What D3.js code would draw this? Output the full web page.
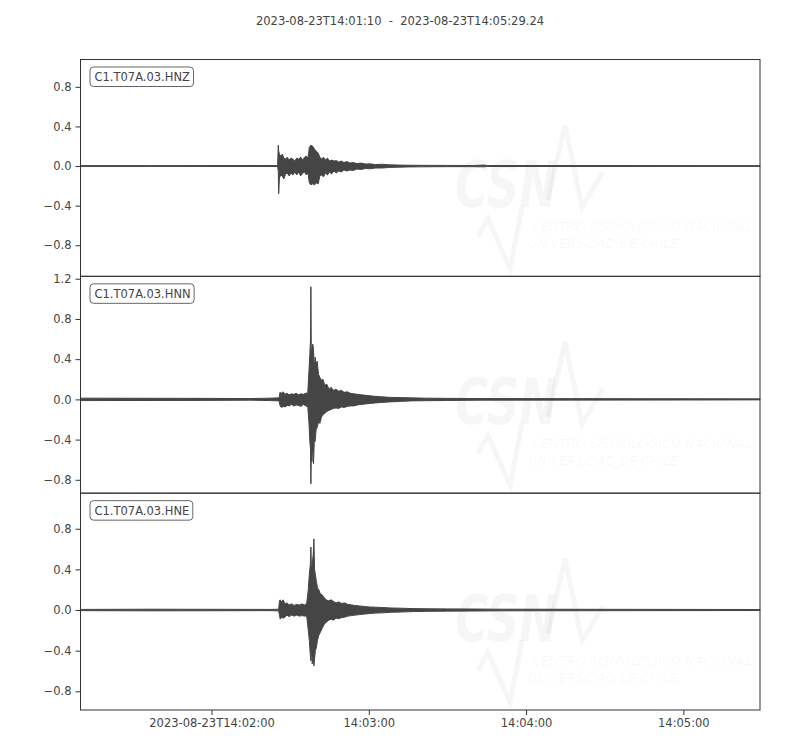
<!DOCTYPE html>
<html><head><meta charset="utf-8">
<script src="https://cdn.jsdelivr.net/npm/d3@7"></script>
<style>body{margin:0;background:#fff} text{font-family:"DejaVu Sans",sans-serif}</style>
</head><body><svg id="c" width="800" height="750"></svg>
<script>
// ---------- data ----------
const startTime = "2023-08-23T14:01:10Z";
const endOffsetSec = 259.24;
const title = "2023-08-23T14:01:10  -  2023-08-23T14:05:29.24";
const channels = ["C1.T07A.03.HNZ", "C1.T07A.03.HNN", "C1.T07A.03.HNE"];
const xTickOffsetsSec = [50, 110, 170, 230];
const xTickLabels = ["2023-08-23T14:02:00", "14:03:00", "14:04:00", "14:05:00"];
const yTicksZ = [-0.8, -0.4, 0.0, 0.4, 0.8];
const yTicksN = [-0.8, -0.4, 0.0, 0.4, 0.8, 1.2];
const yTicksE = [-0.8, -0.4, 0.0, 0.4, 0.8];
const yLimZ = [-1.114, 1.076];
const yLimN = [-0.933, 1.224];
const yLimE = [-0.984, 1.15];

// envelope of each trace: seconds after start, upper and lower amplitude
const tZ  = [0, 26.6, 75.2, 75.45, 75.6, 75.9, 76.4, 77.0, 77.6, 78.2, 78.9, 79.6, 80.3, 81.0, 81.8, 82.5, 83.2, 84.0, 84.8, 85.5, 86.2, 86.8, 87.3, 87.9, 88.6, 89.3, 90.0, 90.7, 91.3, 92.0, 92.7, 93.4, 94.2, 95.0, 95.8, 96.7, 97.6, 98.5, 99.5, 100.5, 101.6, 102.8, 104.0, 105.5, 107.0, 108.8, 110.6, 112.5, 115.0, 118.0, 121.0, 125.0, 130.0, 140.0, 150.0, 154.0, 155.0, 259.24];
const upZ = [0.004, 0.004, 0.005, 0.21, 0.15, 0.12, 0.10, 0.12, 0.08, 0.07, 0.09, 0.06, 0.08, 0.07, 0.05, 0.08, 0.07, 0.09, 0.06, 0.09, 0.10, 0.08, 0.19, 0.21, 0.20, 0.17, 0.15, 0.13, 0.09, 0.07, 0.09, 0.06, 0.08, 0.05, 0.06, 0.05, 0.055, 0.04, 0.05, 0.035, 0.045, 0.03, 0.035, 0.025, 0.03, 0.02, 0.022, 0.015, 0.018, 0.012, 0.010, 0.008, 0.007, 0.006, 0.005, 0.010, 0.005, 0.004];
const loZ = [-0.004, -0.004, -0.005, -0.05, -0.28, -0.12, -0.09, -0.10, -0.13, -0.08, -0.07, -0.10, -0.07, -0.09, -0.06, -0.09, -0.06, -0.10, -0.07, -0.06, -0.09, -0.07, -0.17, -0.19, -0.18, -0.19, -0.17, -0.18, -0.10, -0.09, -0.11, -0.07, -0.09, -0.06, -0.08, -0.05, -0.07, -0.05, -0.06, -0.04, -0.05, -0.04, -0.045, -0.03, -0.035, -0.025, -0.028, -0.02, -0.02, -0.014, -0.012, -0.009, -0.008, -0.006, -0.006, -0.008, -0.005, -0.004];

const tN  = [0, 45.7, 64.8, 72.4, 75.8, 76.1, 76.6, 77.3, 78.0, 78.8, 79.6, 80.5, 81.4, 82.3, 83.2, 84.1, 85.0, 85.9, 86.7, 87.2, 87.5, 87.75, 87.9, 88.05, 88.3, 88.6, 88.9, 89.2, 89.5, 89.9, 90.3, 90.8, 91.3, 91.9, 92.5, 93.2, 94.0, 94.8, 95.6, 96.5, 97.5, 98.5, 99.5, 100.6, 101.8, 103.0, 104.3, 105.7, 107.2, 108.8, 110.5, 112.5, 115.0, 118.0, 122.0, 126.0, 132.0, 140.0, 152.0, 259.24];
const upN = [0.012, 0.010, 0.008, 0.012, 0.015, 0.07, 0.06, 0.075, 0.05, 0.06, 0.045, 0.055, 0.05, 0.06, 0.045, 0.055, 0.05, 0.06, 0.065, 0.30, 0.45, 0.60, 1.12, 0.50, 0.45, 0.55, 0.50, 0.30, 0.42, 0.35, 0.38, 0.25, 0.22, 0.19, 0.20, 0.14, 0.15, 0.10, 0.12, 0.09, 0.10, 0.08, 0.09, 0.07, 0.075, 0.06, 0.055, 0.05, 0.045, 0.04, 0.035, 0.03, 0.025, 0.02, 0.018, 0.015, 0.012, 0.010, 0.008, 0.005];
const loN = [-0.012, -0.010, -0.008, -0.012, -0.015, -0.06, -0.08, -0.07, -0.075, -0.06, -0.065, -0.05, -0.065, -0.055, -0.06, -0.07, -0.05, -0.065, -0.07, -0.25, -0.42, -0.50, -0.84, -0.55, -0.62, -0.45, -0.64, -0.40, -0.42, -0.30, -0.28, -0.22, -0.24, -0.18, -0.15, -0.14, -0.12, -0.11, -0.10, -0.09, -0.085, -0.09, -0.075, -0.08, -0.07, -0.065, -0.065, -0.055, -0.05, -0.045, -0.04, -0.035, -0.03, -0.025, -0.02, -0.015, -0.013, -0.011, -0.008, -0.005];

const tE  = [0, 26.7, 72.4, 75.6, 75.9, 76.2, 76.7, 77.3, 78.0, 78.8, 79.6, 80.5, 81.5, 82.5, 83.5, 84.5, 85.5, 86.3, 86.9, 87.3, 87.7, 87.9, 88.1, 88.4, 88.8, 89.05, 89.3, 89.6, 90.0, 90.4, 90.9, 91.5, 92.2, 93.0, 93.8, 94.7, 95.6, 96.5, 97.5, 98.5, 99.6, 100.8, 102.0, 103.4, 104.8, 106.5, 108.3, 110.3, 112.5, 115.0, 118.5, 122.0, 127.0, 133.0, 140.0, 148.6, 160.0, 259.24];
const upE = [0.006, 0.008, 0.006, 0.008, 0.09, 0.10, 0.08, 0.10, 0.06, 0.07, 0.05, 0.06, 0.045, 0.055, 0.05, 0.06, 0.05, 0.065, 0.20, 0.35, 0.45, 0.62, 0.40, 0.45, 0.55, 0.70, 0.40, 0.35, 0.28, 0.22, 0.20, 0.16, 0.15, 0.12, 0.10, 0.09, 0.10, 0.085, 0.07, 0.08, 0.065, 0.07, 0.055, 0.05, 0.045, 0.04, 0.035, 0.03, 0.028, 0.025, 0.02, 0.018, 0.014, 0.012, 0.011, 0.010, 0.008, 0.005];
const loE = [-0.006, -0.008, -0.006, -0.008, -0.05, -0.09, -0.07, -0.08, -0.07, -0.05, -0.065, -0.05, -0.06, -0.05, -0.06, -0.055, -0.06, -0.06, -0.20, -0.30, -0.45, -0.50, -0.38, -0.53, -0.45, -0.55, -0.48, -0.40, -0.37, -0.30, -0.25, -0.22, -0.18, -0.14, -0.12, -0.10, -0.09, -0.10, -0.08, -0.085, -0.075, -0.07, -0.06, -0.055, -0.05, -0.045, -0.04, -0.035, -0.03, -0.028, -0.022, -0.02, -0.015, -0.013, -0.011, -0.010, -0.008, -0.005];

const wmTitle = "CSN";
const wmLine1 = "CENTRO SISMOLÓGICO NACIONAL";
const wmLine2 = "UNIVERSIDAD DE CHILE";

// ---------- drawing ----------
const svg = d3.select("#c");
const left = 80.5, right = 760, top0 = 59.5, bottom = 710;
const panelH = (bottom - top0) / 3;
const t0 = new Date(startTime);
const toDate = s => new Date(t0.getTime() + s * 1000);
const FS = 11.5;

const x = d3.scaleUtc().domain([t0, toDate(endOffsetSec)]).range([left, right]);

const textCol = "#444";
const axisCol = "#333";
const traceCol = "#454545";

svg.append("text").attr("x", 400).attr("y", 24.5).attr("text-anchor", "middle")
  .attr("font-size", FS).attr("fill", textCol)
  .style("white-space", "pre").text(title);

const panels = [
  {name: channels[0], t: tZ, up: upZ, lo: loZ, ticks: yTicksZ, lim: yLimZ},
  {name: channels[1], t: tN, up: upN, lo: loN, ticks: yTicksN, lim: yLimN},
  {name: channels[2], t: tE, up: upE, lo: loE, ticks: yTicksE, lim: yLimE}
];

const fmt = d3.format(".1f");

panels.forEach((p, i) => {
  const pt = top0 + i * panelH, pb = pt + panelH;
  const y = d3.scaleLinear().domain(p.lim).range([pb, pt]);
  const g = svg.append("g");

  // watermark
  const wm = g.append("g").attr("fill", "#000").attr("fill-opacity", 0.035);
  wm.append("text").attr("x", 455).attr("y", pt + 147.5).attr("font-size", 64)
    .attr("font-weight", "bold").attr("font-style", "italic")
    .attr("textLength", 102).attr("lengthAdjust", "spacingAndGlyphs").text(wmTitle);
  wm.append("text").attr("x", 532).attr("y", pt + 171.5).attr("font-size", 13)
    .attr("font-style", "italic").attr("textLength", 220).attr("lengthAdjust", "spacingAndGlyphs").text(wmLine1);
  wm.append("text").attr("x", 528).attr("y", pt + 188.5).attr("font-size", 13)
    .attr("font-style", "italic").attr("textLength", 150).attr("lengthAdjust", "spacingAndGlyphs").text(wmLine2);
  const wl = g.append("g").attr("fill", "none").attr("stroke", "#000").attr("stroke-opacity", 0.035)
    .attr("stroke-width", 5).attr("stroke-linejoin", "miter");
  wl.append("polyline").attr("points", [[548, pt + 140.5], [565, pt + 65.5], [582, pt + 147.5], [603, pt + 112.5]].map(d => d.join(",")).join(" "));
  wl.append("polyline").attr("points", [[478, pt + 177], [488, pt + 159], [510, pt + 209], [522, pt + 147]].map(d => d.join(",")).join(" "));

  // trace envelope
  const data = p.t.map((s, k) => ({d: toDate(s), u: p.up[k], l: p.lo[k]}));
  const area = d3.area().x(d => x(d.d)).y0(d => y(d.l)).y1(d => y(d.u));
  g.append("path").datum(data).attr("d", area)
    .attr("fill", traceCol).attr("stroke", traceCol).attr("stroke-width", 1).attr("stroke-linejoin", "round");

  // y axis
  const ya = d3.axisLeft(y).tickValues(p.ticks).tickFormat(fmt).tickSize(5).tickPadding(4);
  const yg = g.append("g").attr("transform", `translate(${left},0)`).call(ya);
  yg.select(".domain").remove();
  yg.selectAll("line").attr("stroke", axisCol);
  yg.selectAll("text").attr("font-size", FS).attr("fill", textCol).attr("font-family", "DejaVu Sans");

  // frame
  g.append("rect").attr("x", left).attr("y", pt).attr("width", right - left).attr("height", panelH)
    .attr("fill", "none").attr("stroke", axisCol).attr("stroke-width", 1);

  // label box
  const lb = g.append("g");
  const tx = lb.append("text").attr("x", 94.5).attr("y", pt + 21.5).attr("font-size", FS)
    .attr("fill", textCol).text(p.name);
  const bb = tx.node().getBBox();
  lb.insert("rect", "text").attr("x", bb.x - 4.5).attr("y", pt + 7.5).attr("width", bb.width + 8)
    .attr("height", 19.5).attr("rx", 3.5).attr("fill", "#fff").attr("stroke", "#666").attr("stroke-width", 1);

  if (i === 2) {
    const xa = d3.axisBottom(x).tickValues(xTickOffsetsSec.map(toDate))
      .tickFormat((d, k) => xTickLabels[k]).tickSize(5).tickPadding(4);
    const xg = g.append("g").attr("transform", `translate(0,${bottom})`).call(xa);
    xg.select(".domain").remove();
    xg.selectAll("line").attr("stroke", axisCol);
    xg.selectAll("text").attr("font-size", FS).attr("fill", textCol).attr("font-family", "DejaVu Sans");
  }
});
</script></body></html>
